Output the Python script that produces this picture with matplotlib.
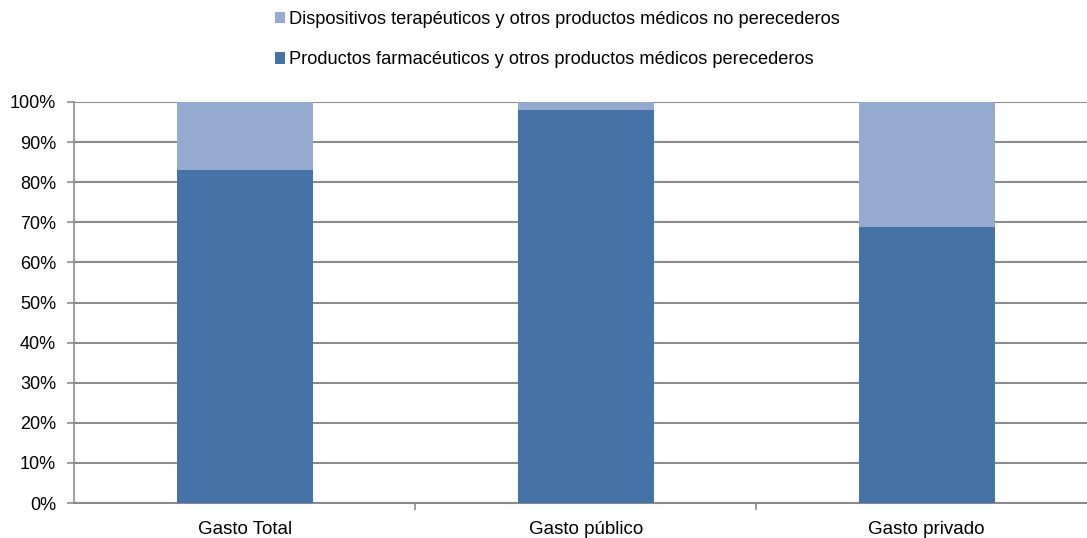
import matplotlib
matplotlib.use("Agg")
import matplotlib.pyplot as plt
from matplotlib.patches import Patch
import numpy as np

plt.rcParams['font.family'] = ['Liberation Sans', 'DejaVu Sans']

categories = ["Gasto Total", "Gasto público", "Gasto privado"]
perecederos = [83.1, 98.0, 68.9]
no_perecederos = [16.9, 2.0, 31.1]
label_per = "Productos farmacéuticos y otros productos médicos perecederos"
label_noper = "Dispositivos terapéuticos y otros productos médicos no perecederos"
yticks = [0, 10, 20, 30, 40, 50, 60, 70, 80, 90, 100]

dark = "#4573A8"
light = "#94AACF"
grid_c = "#8C8C8C"

fig = plt.figure(figsize=(10.87, 5.38), dpi=100)
ax = fig.add_axes([74.2/1087, 35/538, 1023/1087, 401/538])

x = np.arange(len(categories))
ax.bar(x, perecederos, width=0.4, color=dark, zorder=3)
ax.bar(x, no_perecederos, width=0.4, bottom=perecederos, color=light, zorder=3)

ax.set_xlim(-0.5, 2.5)
ax.set_ylim(0, 100)
ax.set_yticks(yticks)
ax.set_yticklabels([f"{v}%" for v in yticks], fontsize=13)
ax.yaxis.grid(True, color=grid_c, linewidth=1.5, zorder=0)
ax.set_xticks(x)
ax.set_xticklabels(categories, fontsize=13.5)
ax.set_xticks([0.5, 1.5], minor=True)
ax.tick_params(axis='x', which='major', length=0, pad=13)
ax.tick_params(axis='x', which='minor', length=5, color=grid_c, width=1.2)
ax.tick_params(axis='y', length=5, color=grid_c, width=1.2, pad=8)
for s in ['top', 'right']:
    ax.spines[s].set_visible(False)
ax.spines['left'].set_color(grid_c)
ax.spines['left'].set_linewidth(1.2)
ax.spines['bottom'].set_color(grid_c)
ax.spines['bottom'].set_linewidth(1.5)

handles = [Patch(facecolor=light, edgecolor='none', label=label_noper),
           Patch(facecolor=dark, edgecolor='none', label=label_per)]
fig.legend(handles=handles, loc='center', bbox_to_anchor=(557/1087, 1 - 39.5/538),
           frameon=False, fontsize=13.15, handlelength=0.57, handleheight=0.57,
           handletextpad=0.2, labelspacing=1.3, alignment='left')

fig.savefig("out.png", dpi=100)
